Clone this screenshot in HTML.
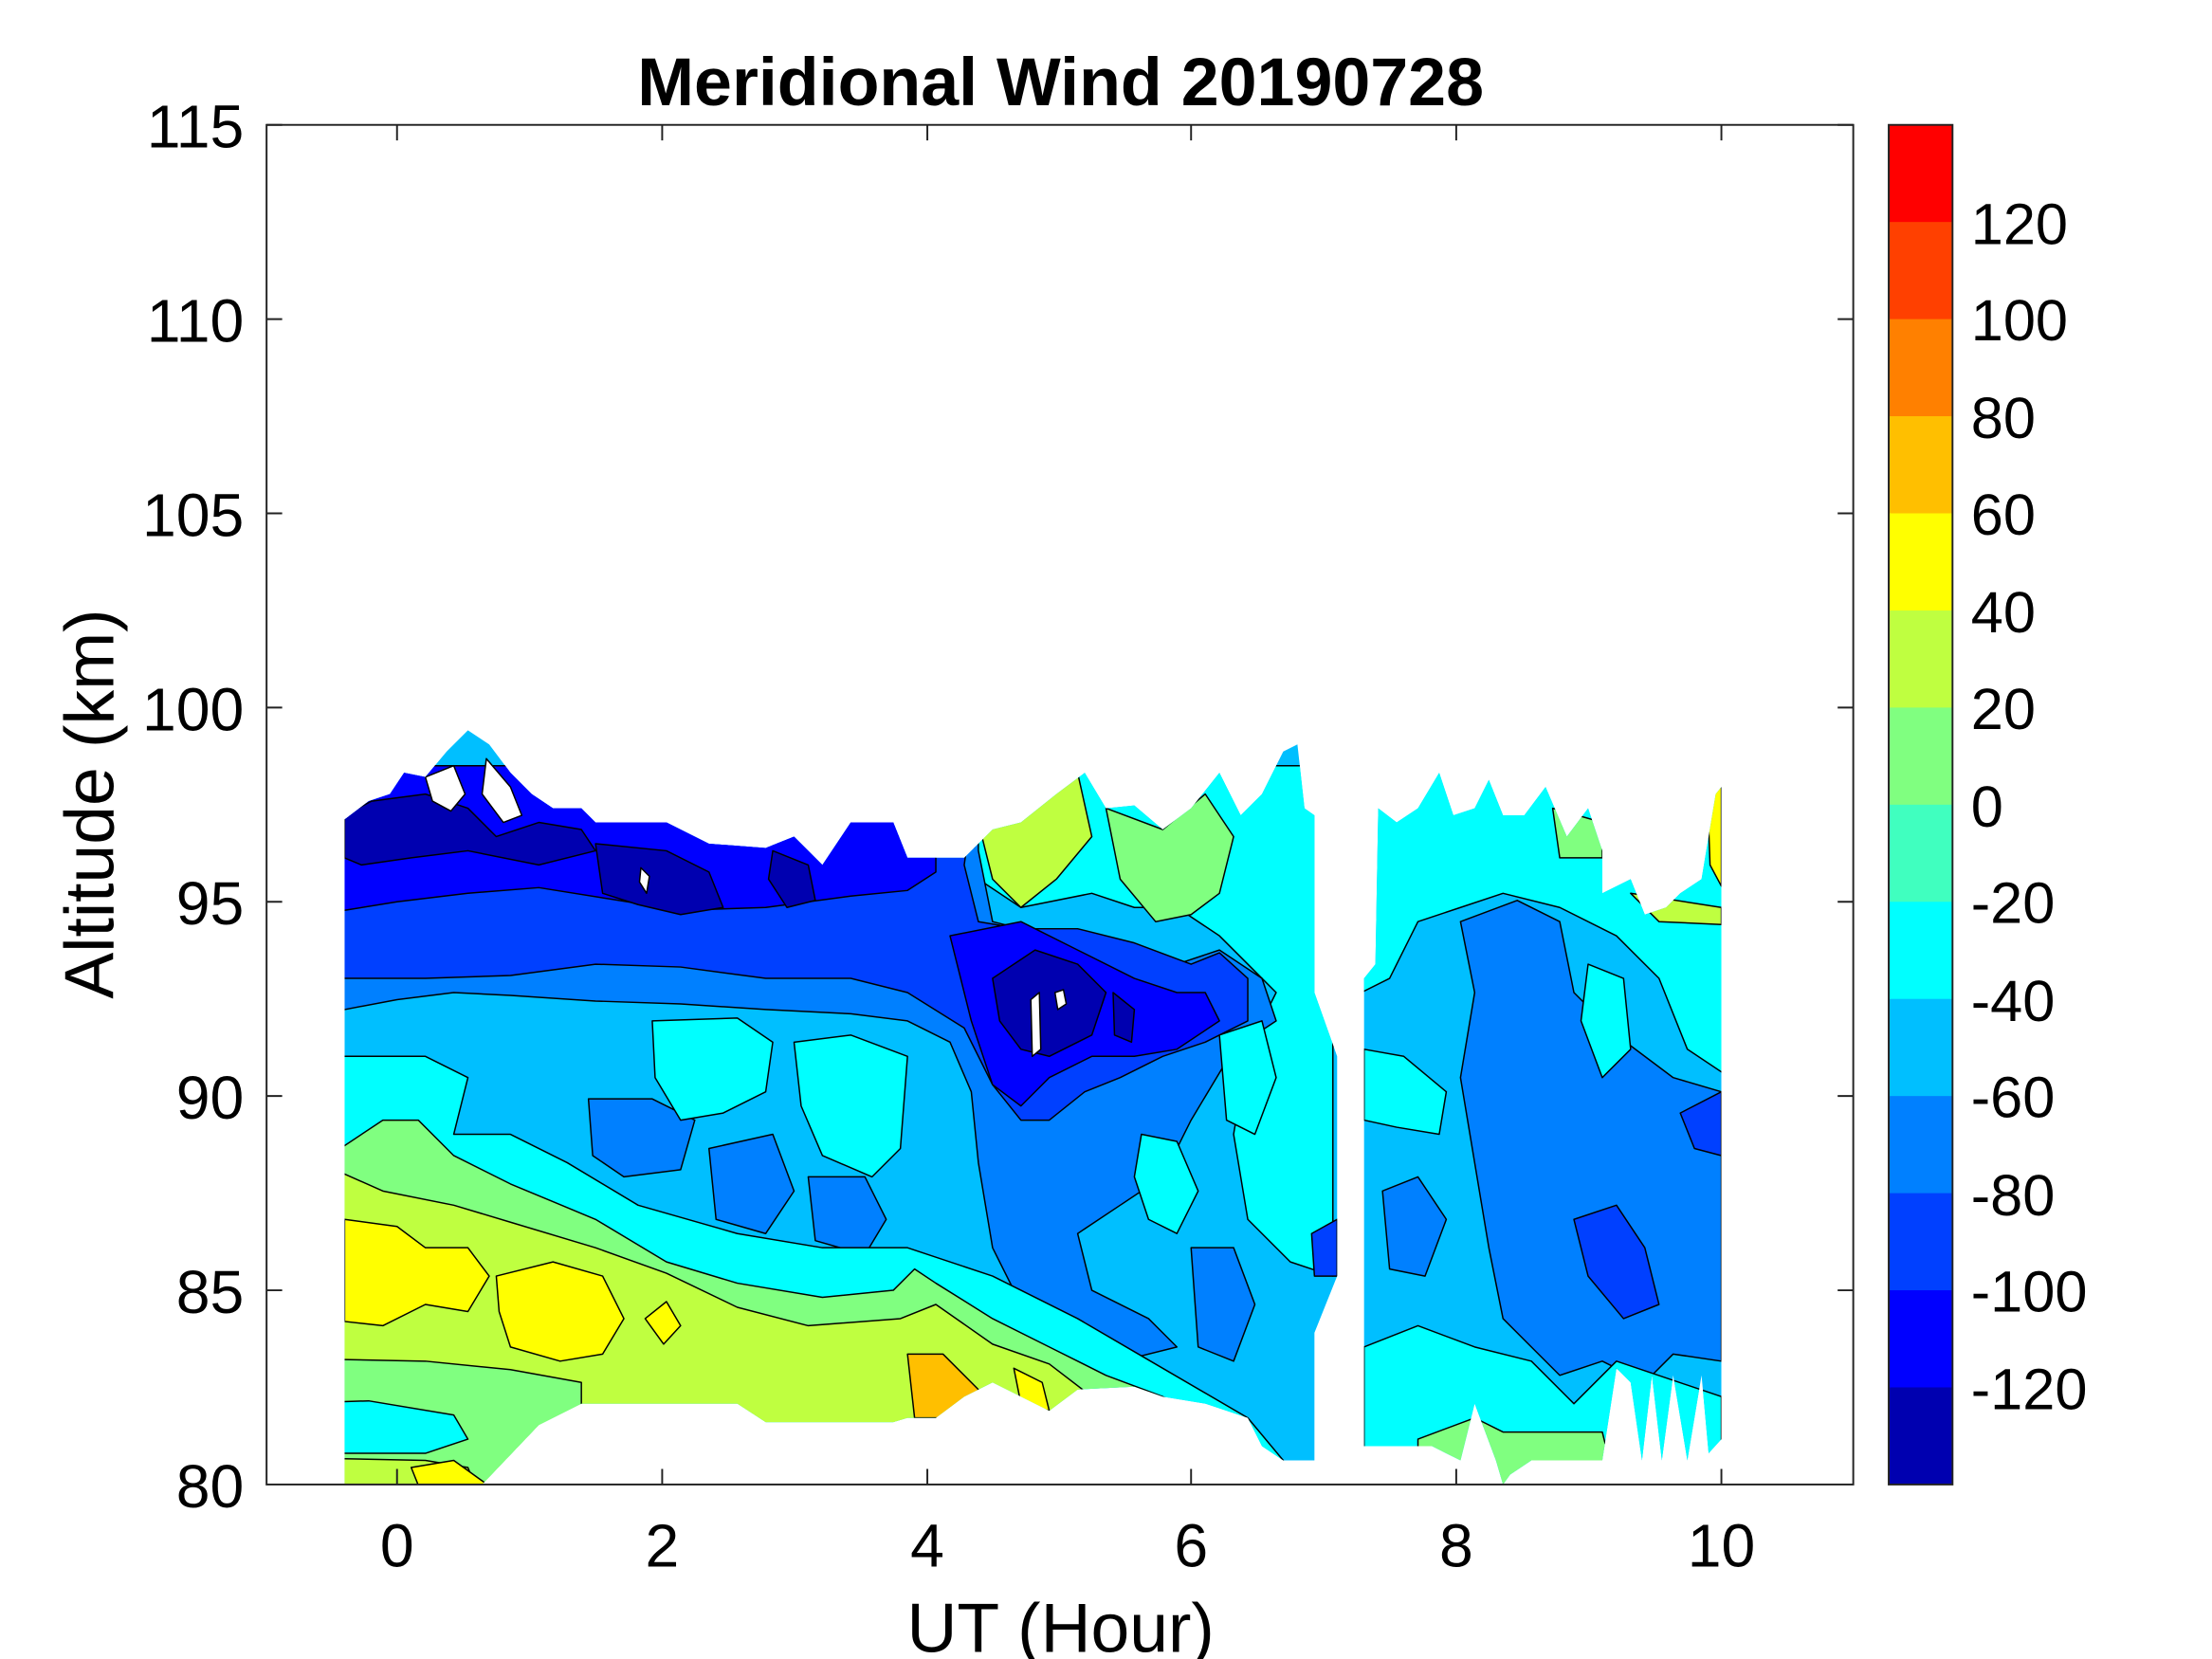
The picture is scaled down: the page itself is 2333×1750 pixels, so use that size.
<!DOCTYPE html>
<html><head><meta charset="utf-8"><style>
html,body{margin:0;padding:0;background:#fff;}
svg{display:block;}
text{font-family:"Liberation Sans",Arial,sans-serif;fill:#000;}
</style></head><body>
<svg width="2333" height="1750" viewBox="0 0 1560 1170" xmlns="http://www.w3.org/2000/svg">
<rect width="1560" height="1170" fill="#fff"/>
<defs>
<clipPath id="dl"><path d="M243,578 260,565 275,560 285,545 300,548 315,530 330,515 345,525 360,545 375,560 390,570 410,570 420,580 470,580 500,595 540,598 560,590 580,610 600,580 630,580 640,605 680,605 700,585 720,580 745,560 765,545 780,570 800,568 820,585 840,570 860,545 875,575 890,560 905,530 915,525 920,570 927,575 927,700 943,745 943,900 927,940 927,1030 905,1030 890,1020 880,1000 850,990 820,985 800,978 760,980 740,995 720,985 700,975 680,985 660,1000 640,1000 630,1003 540,1003 520,990 410,990 380,1005 340,1047 243,1047Z"/>
<path d="M962,690 970,680 972,570 985,580 1000,570 1015,545 1025,575 1040,570 1050,550 1060,575 1075,575 1090,555 1105,590 1120,570 1130,600 1130,630 1150,620 1160,645 1175,640 1185,630 1200,620 1210,560 1214,555 1214,1015 1205,1025 1200,970 1190,1030 1180,970 1172,1030 1165,970 1158,1030 1150,975 1140,965 1130,1030 1080,1030 1065,1040 1060,1047 1055,1030 1040,990 1030,1030 1010,1020 962,1020Z"/>
</clipPath>
</defs>
<g clip-path="url(#dl)" stroke="#000" stroke-width="1" stroke-linejoin="round">
<rect x="200" y="500" width="1050" height="560" fill="#00bfff"/>
<path fill="#00ffff" d="M960,540 1220,540 1220,760 1190,740 1170,690 1140,660 1100,640 1060,630 1030,640 1000,650 980,690 960,700Z"/>
<path fill="#80ff80" d="M1095,570 1130,580 1130,605 1100,605Z"/>
<path fill="#bfff40" d="M1150,630 1214,640 1214,652 1170,650Z"/>
<path fill="#ffff00" d="M1204,555 1214,550 1214,625 1206,610Z"/>
<path fill="#0080ff" d="M1030,650 1070,635 1100,650 1110,700 1140,730 1180,760 1214,770 1214,960 1180,955 1160,975 1130,960 1100,970 1080,950 1060,930 1050,880 1040,820 1030,760 1040,700Z"/>
<path fill="#0040ff" d="M1110,860 1140,850 1160,880 1170,920 1145,930 1120,900Z"/>
<path fill="#0040ff" d="M1185,785 1214,770 1214,815 1195,810Z"/>
<path fill="#0080ff" d="M975,840 1000,830 1020,860 1005,900 980,895Z"/>
<path fill="#00ffff" d="M962,740 990,745 1020,770 1015,800 985,795 962,790Z"/>
<path fill="#00ffff" d="M962,950 1000,935 1040,950 1080,960 1110,990 1140,960 1214,985 1214,1050 962,1050Z"/>
<path fill="#80ff80" d="M1000,1015 1040,1000 1060,1010 1090,1010 1130,1010 1140,1050 1000,1050Z"/>
<path fill="#00ffff" d="M1120,680 1145,690 1150,740 1130,760 1115,720Z"/>
<path fill="#00ffff" d="M680,540 940,540 940,900 910,890 880,860 870,800 880,740 900,700 880,680 860,660 830,640 800,640 770,630 720,640 690,620Z"/>
<path fill="#bfff40" d="M690,580 740,560 760,545 770,590 745,620 720,640 700,620Z"/>
<path fill="#80ff80" d="M780,570 820,585 850,560 870,590 860,630 840,645 815,650 790,620Z"/>
<path fill="#0080ff" d="M200,540 690,540 690,600 700,650 740,660 790,665 830,680 860,670 890,690 900,720 870,740 840,790 820,830 790,850 760,870 770,910 810,930 830,950 790,960 750,945 720,920 700,880 690,820 685,770 670,735 640,720 600,715 540,712 480,708 420,706 360,702 320,700 280,705 243,712 200,712Z"/>
<path fill="#0040ff" d="M200,540 690,540 680,610 690,650 720,655 760,655 800,665 840,680 860,672 880,690 880,720 850,735 820,745 790,760 765,770 740,790 720,790 700,765 680,725 640,700 600,690 540,690 480,682 420,680 360,688 300,690 243,690 200,690Z"/>
<path fill="#0000ff" d="M200,540 660,540 660,615 640,628 600,632 540,640 480,642 430,634 380,626 330,630 280,636 243,642 200,642Z"/>
<path fill="#0000b0" d="M243,575 262,565 300,560 330,570 350,590 380,580 410,585 420,600 380,610 330,600 290,605 255,610 243,605Z"/>
<path fill="#0000b0" d="M420,595 470,600 500,615 510,640 480,645 450,638 425,630Z"/>
<path fill="#0000b0" d="M545,600 570,610 575,635 555,640 542,620Z"/>
<path fill="#0000ff" d="M670,660 720,650 760,670 800,690 830,700 850,700 860,720 830,740 800,745 770,745 740,760 720,780 700,765 685,720Z"/>
<path fill="#0000b0" d="M700,690 730,670 760,680 780,700 770,730 740,745 720,740 705,720Z"/>
<path fill="#0000b0" d="M785,700 800,712 798,735 786,730Z"/>
<path fill="#0080ff" d="M415,775 460,775 490,790 480,825 440,830 418,815Z"/>
<path fill="#0080ff" d="M500,810 545,800 560,840 540,870 505,860Z"/>
<path fill="#0080ff" d="M570,830 610,830 625,860 610,885 575,875Z"/>
<path fill="#0080ff" d="M840,880 870,880 885,920 870,960 845,950Z"/>
<path fill="#0040ff" d="M925,870 943,860 943,900 927,900Z"/>
<path fill="#00ffff" d="M460,720 520,718 545,735 540,770 510,785 480,790 462,760Z"/>
<path fill="#00ffff" d="M560,735 600,730 640,745 635,810 615,830 580,815 565,780Z"/>
<path fill="#00ffff" d="M805,800 830,805 845,840 830,870 810,860 800,830Z"/>
<path fill="#00ffff" d="M860,730 890,720 900,760 885,800 865,790Z"/>
<path fill="#00ffff" d="M200,745 300,745 330,760 320,800 360,800 400,820 450,850 520,870 580,880 640,880 700,900 760,930 820,965 880,1000 905,1030 905,1060 200,1060Z"/>
<path fill="#80ff80" d="M200,808 243,808 270,790 295,790 320,815 360,835 420,860 470,890 520,905 580,915 630,910 645,895 660,905 700,930 740,950 780,970 820,985 850,1000 850,1060 200,1060Z"/>
<path fill="#bfff40" d="M200,828 243,828 270,840 320,850 360,862 420,880 470,898 520,922 570,935 635,930 660,920 700,948 740,962 770,985 780,1060 200,1060Z"/>
<path fill="#ffff00" d="M243,860 280,865 300,880 330,880 345,900 330,925 300,920 270,935 243,932Z"/>
<path fill="#ffff00" d="M350,900 390,890 425,900 440,930 425,955 395,960 360,950 352,925Z"/>
<path fill="#ffff00" d="M455,930 470,918 480,935 468,948Z"/>
<path fill="#ffbf00" d="M640,955 665,955 690,980 680,1000 645,1000Z"/>
<path fill="#ffff00" d="M715,965 735,975 740,995 720,990Z"/>
<path fill="#80ff80" d="M200,958 300,960 360,966 410,975 410,1060 200,1060Z"/>
<path fill="#00ffff" d="M200,990 260,988 320,998 330,1015 300,1025 243,1025 200,1025Z"/>
<path fill="#bfff40" d="M200,1028 300,1030 330,1035 340,1060 200,1060Z"/>
<path fill="#ffff00" d="M290,1035 320,1030 345,1048 300,1060Z"/>
<path fill="#fff" d="M452,612 458,618 456,630 451,622Z"/>
<path fill="#fff" d="M727,705 733,700 734,740 728,745Z"/>
<path fill="#fff" d="M744,700 750,698 752,708 746,712Z"/>
<path fill="#fff" d="M300,548 320,540 328,560 318,572 305,565Z"/>
<path fill="#fff" d="M343,535 360,555 368,575 355,580 340,560Z"/>
</g>
<rect x="188" y="88" width="1119" height="959" fill="none" stroke="#222" stroke-width="1.3"/>
<g stroke="#222" stroke-width="1.3">
<path d="M280,1047v-11M467,1047v-11M654,1047v-11M840,1047v-11M1027,1047v-11M1214,1047v-11M280,88v11M467,88v11M654,88v11M840,88v11M1027,88v11M1214,88v11"/>
<path d="M188,88h11M188,225h11M188,362h11M188,499h11M188,636h11M188,773h11M188,910h11M1307,88h-11M1307,225h-11M1307,362h-11M1307,499h-11M1307,636h-11M1307,773h-11M1307,910h-11"/>
</g>
<g font-size="43" text-anchor="end">
<text x="172" y="104">115</text><text x="172" y="241">110</text><text x="172" y="378">105</text><text x="172" y="515">100</text><text x="172" y="652">95</text><text x="172" y="789">90</text><text x="172" y="926">85</text><text x="172" y="1063">80</text>
</g>
<g font-size="43" text-anchor="middle">
<text x="280" y="1105">0</text><text x="467" y="1105">2</text><text x="654" y="1105">4</text><text x="840" y="1105">6</text><text x="1027" y="1105">8</text><text x="1214" y="1105">10</text>
<text x="748" y="1165" font-size="49">UT (Hour)</text>
<text x="748" y="74" font-size="48" font-weight="bold">Meridional Wind 20190728</text>
</g>
<text font-size="49" text-anchor="middle" transform="translate(80,567) rotate(-90)">Altitude (km)</text>
<g>
<rect x="1332" y="88" width="45" height="69" fill="#ff0000"/>
<rect x="1332" y="156.5" width="45" height="69" fill="#ff4000"/>
<rect x="1332" y="225" width="45" height="69" fill="#ff8000"/>
<rect x="1332" y="293.5" width="45" height="69" fill="#ffbf00"/>
<rect x="1332" y="362" width="45" height="69" fill="#ffff00"/>
<rect x="1332" y="430.5" width="45" height="69" fill="#bfff40"/>
<rect x="1332" y="499" width="45" height="69" fill="#80ff80"/>
<rect x="1332" y="567.5" width="45" height="69" fill="#40ffbf"/>
<rect x="1332" y="636" width="45" height="69" fill="#00ffff"/>
<rect x="1332" y="704.5" width="45" height="69" fill="#00bfff"/>
<rect x="1332" y="773" width="45" height="69" fill="#0080ff"/>
<rect x="1332" y="841.5" width="45" height="69" fill="#0040ff"/>
<rect x="1332" y="910" width="45" height="69" fill="#0000ff"/>
<rect x="1332" y="978.5" width="45" height="68.5" fill="#0000b0"/>
<rect x="1332" y="88" width="45" height="959" fill="none" stroke="#222" stroke-width="1.3"/>
</g>
<g font-size="41">
<text x="1390" y="172">120</text><text x="1390" y="240">100</text><text x="1390" y="309">80</text><text x="1390" y="377">60</text><text x="1390" y="446">40</text><text x="1390" y="514">20</text><text x="1390" y="583">0</text><text x="1390" y="651">-20</text><text x="1390" y="720">-40</text><text x="1390" y="788">-60</text><text x="1390" y="857">-80</text><text x="1390" y="925">-100</text><text x="1390" y="994">-120</text>
</g>
</svg>
</body></html>
